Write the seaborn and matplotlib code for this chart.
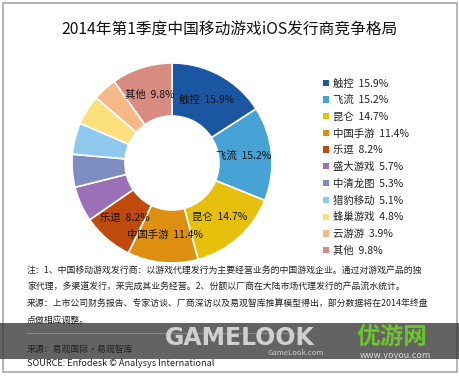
import matplotlib
matplotlib.use("Agg")
import matplotlib.pyplot as plt
import seaborn as sns
import numpy as np
from matplotlib.patches import Patch, Rectangle

# data
publishers = ['触控', '飞流', '昆仑', '中国手游', '乐逗', '盛大游戏', '中清龙图', '猎豹移动', '蜂巢游戏', '云游游', '其他']
shares = [15.9, 15.2, 14.7, 11.4, 8.2, 5.7, 5.3, 5.1, 4.8, 3.9, 9.8]
colors = ['#1b56a3', '#47a2d6', '#e6c00c', '#df8f10', '#bf4a0c', '#9b70b6',
          '#7d8dc0', '#8fcaee', '#fbe07c', '#f6b886', '#d88b80']
labelled = ['触控', '飞流', '昆仑', '中国手游', '乐逗', '其他']

title = '2014年第1季度中国移动游戏iOS发行商竞争格局'
notes = ['注：1、中国移动游戏发行商：以游戏代理发行为主要经营业务的中国游戏企业。通过对游戏产品的独',
         '家代理，多渠道发行，来完成其业务经营。2、份额以厂商在大陆市场代理发行的产品流水统计。',
         '来源：上市公司财务报告、专家访谈、厂商深访以及易观智库推算模型得出，部分数据将在2014年终盘',
         '点做相应调整。']
source = ['来源：易观国际·易观智库', 'SOURCE: Enfodesk © Analysys International']

sns.set_theme(style="white")
plt.rcParams['font.family'] = ['Noto Sans CJK SC', 'DejaVu Sans']

W, H = 460, 377
fig = plt.figure(figsize=(W / 100, H / 100), dpi=100)
fig.patch.set_facecolor('white')

# outer frame
fig.add_artist(Rectangle((3 / W, 5 / H), 454 / W, 369 / H, transform=fig.transFigure,
                         fill=False, edgecolor='#a8a8a8', linewidth=1.2))

fig.text(230 / W, 1 - 30 / H, title, ha='center', va='center', fontsize=11.3, color='#111111')

# donut
ax = fig.add_axes([72 / W, 1 - 263 / H, 200 / W, 200 / H])
wedges, _ = ax.pie(shares, colors=colors, startangle=90, counterclock=False,
                   wedgeprops=dict(width=0.53, edgecolor='white', linewidth=1.2))
ax.set_xlim(-1.0, 1.0)
ax.set_ylim(-1.0, 1.0)
ax.set_aspect('equal')
ax.axis('off')

for w, name, val in zip(wedges, publishers, shares):
    if name not in labelled:
        continue
    ang = np.deg2rad((w.theta1 + w.theta2) / 2)
    r = 0.72
    ax.text(r * np.cos(ang), r * np.sin(ang), f'{name}  {val}%', ha='center', va='center',
            fontsize=7.5, color='#111111')

handles = [Patch(facecolor=c, edgecolor='none') for c in colors]
labels = [f'{n}  {v}%' for n, v in zip(publishers, shares)]
fig.legend(handles, labels, loc='upper left', bbox_to_anchor=(318 / W, 1 - 73 / H),
           frameon=False, fontsize=7.5, handlelength=0.55, handleheight=0.55,
           handletextpad=0.35, labelspacing=0.64, borderpad=0, labelcolor='#222222')

# notes
y0 = 270
for i, line in enumerate(notes):
    fig.text(27 / W, 1 - (y0 + i * 17) / H, line, ha='left', va='center', fontsize=6.4, color='#222222')
fig.add_artist(plt.Line2D([27 / W, 300 / W], [1 - 333 / H, 1 - 333 / H], color='#888888', lw=0.8))
fig.text(27 / W, 1 - 349 / H, source[0], ha='left', va='center', fontsize=6.4, color='#222222')
fig.text(27 / W, 1 - 363 / H, source[1], ha='left', va='center', fontsize=6.6, color='#222222')

# watermark band
fig.add_artist(Rectangle((0, 1 - 359 / H), 1, 36 / H, transform=fig.transFigure,
                         facecolor='#3c3c3c', alpha=0.8, edgecolor='none'))
fig.text(165 / W, 1 - 338 / H, 'GAMELOOK', ha='left', va='center', fontsize=17, fontweight='bold',
         color='#d0d0d0', family=['DejaVu Sans'])
fig.text(268 / W, 1 - 353 / H, 'GameLook.com', ha='left', va='center', fontsize=5.5, color='#cccccc')
fig.text(356 / W, 1 - 337 / H, '优游网', ha='left', va='center', fontsize=17, fontweight='bold',
         color='#6cc62a')
fig.text(360 / W, 1 - 356 / H, 'www.yoyou.com', ha='left', va='center', fontsize=6.5, color='#dddddd')

fig.savefig('out.png', dpi=100)
